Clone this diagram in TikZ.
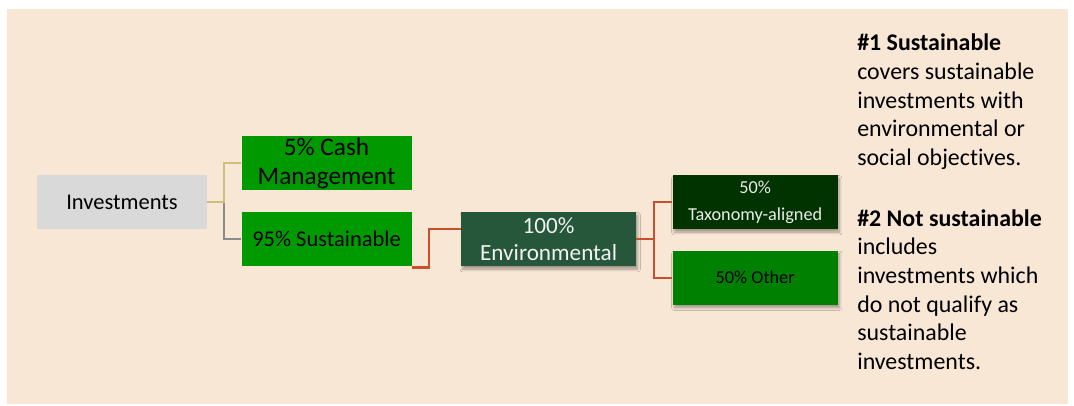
\documentclass[tikz,border=0pt]{standalone}
\usepackage{fontspec}
\setmainfont{Carlito}[Ligatures=NoCommon]
\usepackage{tikz}
\usetikzlibrary{positioning,shadows.blur}
\usepackage{xcolor}
\definecolor{panelbg}{RGB}{249,231,214}
\definecolor{invgray}{RGB}{217,217,217}
\definecolor{sustgreen}{RGB}{0,153,0}
\definecolor{envgreen}{RGB}{38,87,58}
\definecolor{taxgreen}{RGB}{0,51,0}
\definecolor{othergreen}{RGB}{0,128,0}
\definecolor{tanline}{RGB}{205,190,130}
\definecolor{greyline}{RGB}{140,140,140}
\definecolor{redline}{RGB}{200,80,45}

\begin{document}
\begin{tikzpicture}[node distance=0.5cm,
    box/.style={rectangle, minimum width=4.25cm, minimum height=1.35cm, inner sep=1pt, align=center},
    link/.style={line width=1.5pt},
    softshadow/.style={blur shadow={shadow xshift=0.04cm, shadow yshift=-0.08cm, shadow blur steps=6, shadow opacity=35}}]
    \useasboundingbox (0,0) rectangle (26.85,-10.125);
    % background panel
    \fill[panelbg] (0.175,-0.225) rectangle (26.7,-10.1);

    % Investments
    \node[box, fill=invgray, font=\fontsize{16}{19}\selectfont] (inv) at (3.05,-5.05) {Investments};

    % 95% Sustainable
    \node[box, fill=sustgreen, font=\fontsize{16}{19}\selectfont, right=0.85cm of inv, yshift=-0.925cm] (sust) {95\% Sustainable};

    % 5% Cash Management
    \node[box, fill=sustgreen, font=\fontsize{18}{20.5}\selectfont, above=0.525cm of sust] (cash) {5\% Cash\\Management};
    \draw[link, greyline] (inv.east) -- ++(0.425,0) |- (sust.west);
    \draw[link, tanline] (inv.east) -- ++(0.425,0) |- (cash.west);

    % 100% Environmental
    \node[box, minimum width=4.375cm, fill=envgreen, text=white!95!black, font=\fontsize{16.5}{18.8}\selectfont, right=1.225cm of sust, softshadow] (env) {100\%\\Environmental};
    \draw[link, redline] ([yshift=-0.03cm]sust.south east) -- ++(0.425,0) |- ([yshift=0.25cm]env.west);

    % 50% Taxonomy-aligned
    \node[box, minimum width=4.125cm, fill=taxgreen, text=white!92!black, font=\fontsize{13}{19}\selectfont, right=0.9cm of env, yshift=0.925cm, softshadow] (tax) {50\%\\Taxonomy-aligned};
    \draw[link, redline] (env.east) -- ++(0.45,0) |- (tax.west);

    % 50% Other
    \node[box, minimum width=4.125cm, fill=othergreen, font=\fontsize{13}{16}\selectfont, below=0.525cm of tax, softshadow] (other) {50\% Other};
    \draw[link, redline] (env.east) -- ++(0.45,0) |- (other.west);

    % notes
    \node[anchor=north west, inner sep=0pt, align=left, font=\fontsize{17}{20.4}\selectfont] (notes) at (21.425,-0.84) {\textbf{\#1 Sustainable}\\covers sustainable\\investments with\\environmental or\\social objectives.\\[22.8pt]\textbf{\#2 Not sustainable}\\includes\\investments which\\do not qualify as\\sustainable\\investments.};
\end{tikzpicture}
\end{document}
